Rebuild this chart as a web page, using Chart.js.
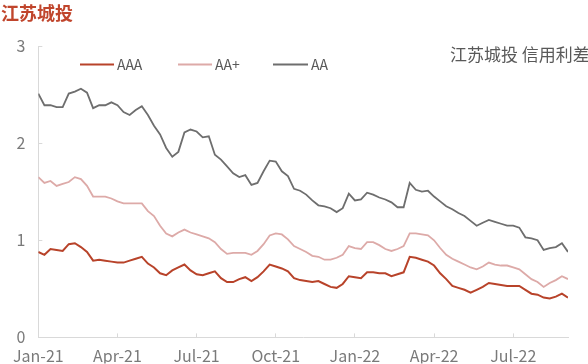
<!DOCTYPE html>
<html>
<head>
<meta charset="utf-8">
<script src="https://cdn.jsdelivr.net/npm/chart.js@4.4.0/dist/chart.umd.min.js"></script>
<style>
  html, body { margin: 0; padding: 0; background: #fff; }
  #wrap { width: 588px; height: 364px; position: relative; }
</style>
</head>
<body>
<div id="wrap"><canvas id="chart"></canvas></div>
<script>
// weekly credit spreads, Jan-21 .. Sep-22
const AAA = [0.88, 0.85, 0.91, 0.90, 0.89, 0.96, 0.97, 0.93, 0.88, 0.79, 0.80, 0.79, 0.78, 0.77, 0.77, 0.79, 0.81, 0.83, 0.76, 0.72,
  0.66, 0.64, 0.69, 0.72, 0.75, 0.69, 0.65, 0.64, 0.66, 0.68, 0.61, 0.57, 0.57, 0.60, 0.62, 0.58, 0.62, 0.68, 0.75, 0.73,
  0.71, 0.68, 0.61, 0.59, 0.58, 0.57, 0.58, 0.55, 0.52, 0.51, 0.55, 0.63, 0.62, 0.61, 0.67, 0.67, 0.66, 0.66, 0.63, 0.65,
  0.67, 0.83, 0.82, 0.80, 0.78, 0.74, 0.66, 0.60, 0.53, 0.51, 0.49, 0.46, 0.49, 0.52, 0.56, 0.55, 0.54, 0.53, 0.53, 0.53,
  0.49, 0.45, 0.44, 0.41, 0.40, 0.42, 0.45, 0.41];
const AAplus = [1.65, 1.59, 1.61, 1.56, 1.58, 1.60, 1.65, 1.63, 1.56, 1.45, 1.45, 1.45, 1.43, 1.40, 1.38, 1.38, 1.38, 1.38, 1.30, 1.25,
  1.15, 1.07, 1.04, 1.08, 1.11, 1.08, 1.06, 1.04, 1.02, 0.98, 0.91, 0.86, 0.87, 0.87, 0.87, 0.85, 0.89, 0.96, 1.05, 1.07,
  1.06, 1.01, 0.94, 0.91, 0.88, 0.84, 0.83, 0.80, 0.80, 0.82, 0.85, 0.94, 0.92, 0.91, 0.98, 0.98, 0.95, 0.91, 0.89, 0.91,
  0.94, 1.07, 1.07, 1.06, 1.05, 1.00, 0.92, 0.85, 0.81, 0.78, 0.75, 0.72, 0.70, 0.73, 0.77, 0.75, 0.74, 0.74, 0.72, 0.70,
  0.65, 0.60, 0.57, 0.52, 0.56, 0.59, 0.63, 0.60];
const AA = [2.51, 2.39, 2.39, 2.37, 2.37, 2.51, 2.53, 2.56, 2.52, 2.36, 2.39, 2.39, 2.42, 2.39, 2.32, 2.29, 2.34, 2.38, 2.29, 2.18,
  2.09, 1.95, 1.86, 1.91, 2.11, 2.14, 2.12, 2.06, 2.07, 1.88, 1.83, 1.76, 1.69, 1.65, 1.67, 1.57, 1.59, 1.71, 1.82, 1.81,
  1.71, 1.66, 1.53, 1.51, 1.47, 1.41, 1.36, 1.35, 1.33, 1.29, 1.33, 1.48, 1.41, 1.42, 1.49, 1.47, 1.44, 1.42, 1.39, 1.34,
  1.34, 1.59, 1.52, 1.50, 1.51, 1.45, 1.40, 1.35, 1.32, 1.28, 1.25, 1.20, 1.15, 1.18, 1.21, 1.19, 1.17, 1.15, 1.15, 1.13,
  1.03, 1.02, 1.00, 0.90, 0.92, 0.93, 0.97, 0.88];

const tickLabels = ['Jan-21', 'Apr-21', 'Jul-21', 'Oct-21', 'Jan-22', 'Apr-22', 'Jul-22'];
const weeksPerTick = 13;

const FONT = '"Noto Sans CJK SC", "Noto Sans", sans-serif';

function pts(arr) {
  return arr.map((v, i) => ({ x: i, y: v }));
}

// title, note and legend drawn on the canvas
const extras = {
  id: 'extras',
  afterDraw(chart) {
    const c = chart.ctx;
    c.save();
    c.textBaseline = 'middle';
    c.font = 'bold 18px ' + FONT;
    c.fillStyle = '#C0452C';
    c.textAlign = 'left';
    c.fillText('江苏城投', 1, 13);

    c.font = '17px ' + FONT;
    c.fillStyle = '#595959';
    c.fillText('江苏城投 信用利差', 450, 55);

    const items = [[80, 117], [178, 215], [273, 311]];
    c.font = '14px ' + FONT;
    chart.data.datasets.forEach((ds, i) => {
      const [lx, tx] = items[i];
      c.strokeStyle = ds.borderColor;
      c.lineWidth = 2;
      c.beginPath();
      c.moveTo(lx, 64.5);
      c.lineTo(tx - 3, 64.5);
      c.stroke();
      c.fillStyle = '#595959';
      c.fillText(ds.label, tx, 65);
    });
    c.restore();
  }
};

new Chart(document.getElementById('chart'), {
  type: 'line',
  data: {
    datasets: [
      { label: 'AAA', data: pts(AAA), borderColor: '#B8432A', borderWidth: 2, pointRadius: 0, tension: 0 },
      { label: 'AA+', data: pts(AAplus), borderColor: '#DDAAA8', borderWidth: 1.8, pointRadius: 0, tension: 0 },
      { label: 'AA', data: pts(AA), borderColor: '#6E6E6E', borderWidth: 1.8, pointRadius: 0, tension: 0 }
    ]
  },
  options: {
    responsive: true,
    maintainAspectRatio: false,
    animation: false,
    layout: { padding: { top: 46, right: 20, left: 0, bottom: 0 } },
    plugins: {
      legend: { display: false },
      tooltip: { enabled: false }
    },
    scales: {
      x: {
        type: 'linear',
        min: 0,
        max: AA.length - 1,
        afterFit: s => { s.height = 26; },
        grid: { drawOnChartArea: false, drawTicks: true, tickLength: -4, color: '#d9d9d9' },
        border: { color: '#d9d9d9' },
        ticks: {
          stepSize: weeksPerTick,
          includeBounds: false,
          autoSkip: false,
          maxRotation: 0,
          padding: 13,
          color: '#7a7a7a',
          font: { family: FONT, size: 16 },
          callback: v => tickLabels[v / weeksPerTick]
        }
      },
      y: {
        min: 0,
        max: 3,
        afterFit: s => { s.width = 26; },
        grid: { drawOnChartArea: false, drawTicks: true, tickLength: -4, color: '#d9d9d9' },
        border: { color: '#d9d9d9' },
        ticks: {
          stepSize: 1,
          padding: 17,
          color: '#7a7a7a',
          font: { family: FONT, size: 16 }
        }
      }
    }
  },
  plugins: [extras]
});
</script>
</body>
</html>
